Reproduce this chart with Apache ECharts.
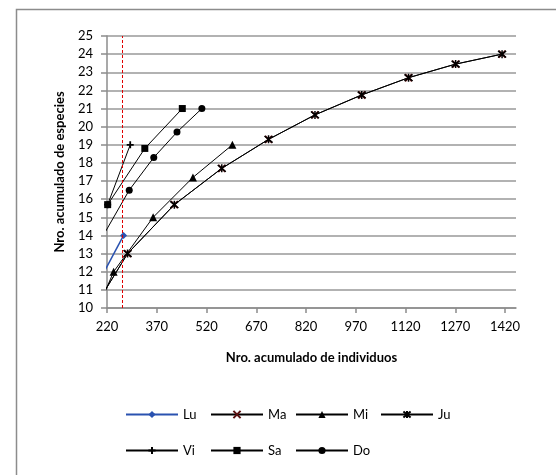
<!DOCTYPE html>
<html>
<head>
<meta charset="utf-8">
<script src="https://cdn.jsdelivr.net/npm/echarts@6/dist/echarts.min.js"></script>
<style>
  html, body { margin: 0; padding: 0; background: #fff; }
</style>
</head>
<body>
<div id="main" style="width: 556px; height: 475px;"></div>
<script>
// puntos [individuos, especies]; el primer punto de algunas series cae fuera del eje (x < 220)
var lu = [[200, 11.6], [270, 14]];
var ma = [[200, 10.55], [282, 13], [423, 15.7], [566, 17.7], [707, 19.3], [847, 20.65], [988, 21.75], [1129, 22.7], [1271, 23.45], [1411, 24]];
var mi = [[200, 10.3], [240, 12], [359, 15], [479, 17.2], [598, 19]];
var ju = [[200, 10.55], [282, 13], [423, 15.7], [566, 17.7], [707, 19.3], [847, 20.65], [988, 21.75], [1129, 22.7], [1271, 23.45], [1411, 24]];
var vi = [[222, 15.7], [290, 19]];
var sa = [[222, 15.7], [334, 18.8], [447, 21]];
var dO = [[215, 14.2], [287, 16.5], [361, 18.3], [431, 19.7], [506, 21]];

var xTicks = [220, 370, 520, 670, 820, 970, 1120, 1270, 1420];
var corte = 267; // linea roja punteada

// leyenda en dos filas
var fila1 = ['Lu', 'Ma', 'Mi', 'Ju'];
var fila2 = ['Vi', 'Sa', 'Do'];

var FONT = 'Lato';
var xSym = 'path://M0,0L10,10M10,0L0,10';
var starSym = 'path://M0,0L10,10M10,0L0,10M5,-1L5,11';
var plusSym = 'path://M5,0L5,10M0,5L10,5';

function serie(name, data, symbol, size, opts) {
  var s = {
    name: name,
    type: 'line',
    data: data,
    symbol: symbol,
    symbolSize: size,
    showAllSymbol: true,
    clip: true,
    animation: false,
    lineStyle: { color: '#000', width: 1 },
    itemStyle: { color: '#000' }
  };
  return Object.assign(s, opts || {});
}

function leyenda(name, col, top) {
  return {
    data: [name],
    left: 125 + col * 85,
    top: top,
    padding: 0,
    itemWidth: 52,
    itemHeight: 9,
    itemGap: 0,
    selectedMode: false,
    textStyle: { fontFamily: FONT, fontSize: 13, color: '#000' }
  };
}

var legends = [];
fila1.forEach(function (n, i) { legends.push(leyenda(n, i, 408)); });
fila2.forEach(function (n, i) { legends.push(leyenda(n, i, 444)); });

var chartDom = document.getElementById('main');
var myChart = echarts.init(chartDom);

var option = {
  backgroundColor: '#fff',
  textStyle: { fontFamily: FONT },
  graphic: [
    {
      type: 'rect',
      left: 14,
      top: 7,
      shape: { width: 600, height: 600 },
      style: { fill: 'none', stroke: '#8c8c8c', lineWidth: 1.5 },
      silent: true
    }
  ],
  grid: {
    left: 107,
    top: 36,
    right: 40,
    bottom: 167
  },
  legend: legends,
  xAxis: {
    type: 'value',
    min: 220,
    max: 1453,
    name: 'Nro. acumulado de individuos',
    nameLocation: 'middle',
    nameGap: 43,
    nameTextStyle: { fontFamily: FONT, fontSize: 13, fontWeight: 'bold', color: '#000' },
    axisLine: { show: true, lineStyle: { color: '#8c8c8c', width: 1.5 } },
    axisTick: { show: true, length: 5, customValues: xTicks, lineStyle: { color: '#8c8c8c', width: 1.5 } },
    axisLabel: {
      customValues: xTicks,
      margin: 12,
      fontFamily: FONT,
      fontSize: 13,
      color: '#000',
      formatter: function (v) { return String(v); }
    },
    splitLine: { show: false }
  },
  yAxis: {
    type: 'value',
    min: 10,
    max: 25,
    interval: 1,
    name: 'Nro. acumulado de especies',
    nameLocation: 'middle',
    nameGap: 41,
    nameTextStyle: { fontFamily: FONT, fontSize: 13, fontWeight: 'bold', color: '#000' },
    axisLine: { show: true, lineStyle: { color: '#8c8c8c', width: 1.5 } },
    axisTick: { show: true, length: 6, lineStyle: { color: '#8c8c8c', width: 1.5 } },
    axisLabel: { margin: 14, fontFamily: FONT, fontSize: 13, color: '#000' },
    splitLine: { show: true, lineStyle: { color: '#999', width: 1.5 } }
  },
  series: [
    serie('Lu', lu, 'diamond', 7, {
      lineStyle: { color: '#2a52b0', width: 1.5 },
      itemStyle: { color: '#2a52b0' },
      markLine: {
        silent: true,
        animation: false,
        symbol: ['none', 'none'],
        label: { show: false },
        lineStyle: { color: '#e00000', type: [3, 2], width: 1 },
        data: [{ xAxis: corte }]
      }
    }),
    serie('Ma', ma, xSym, 7, {
      itemStyle: { color: 'none', borderColor: '#5c1212', borderWidth: 2 }
    }),
    serie('Mi', mi, 'triangle', 8),
    serie('Ju', ju, starSym, 8, {
      itemStyle: { color: 'none', borderColor: '#000', borderWidth: 1.5 }
    }),
    serie('Vi', vi, plusSym, 7, {
      itemStyle: { color: 'none', borderColor: '#000', borderWidth: 1.8 }
    }),
    serie('Sa', sa, 'rect', 7),
    serie('Do', dO, 'circle', 7)
  ]
};

option && myChart.setOption(option);
</script>
</body>
</html>
